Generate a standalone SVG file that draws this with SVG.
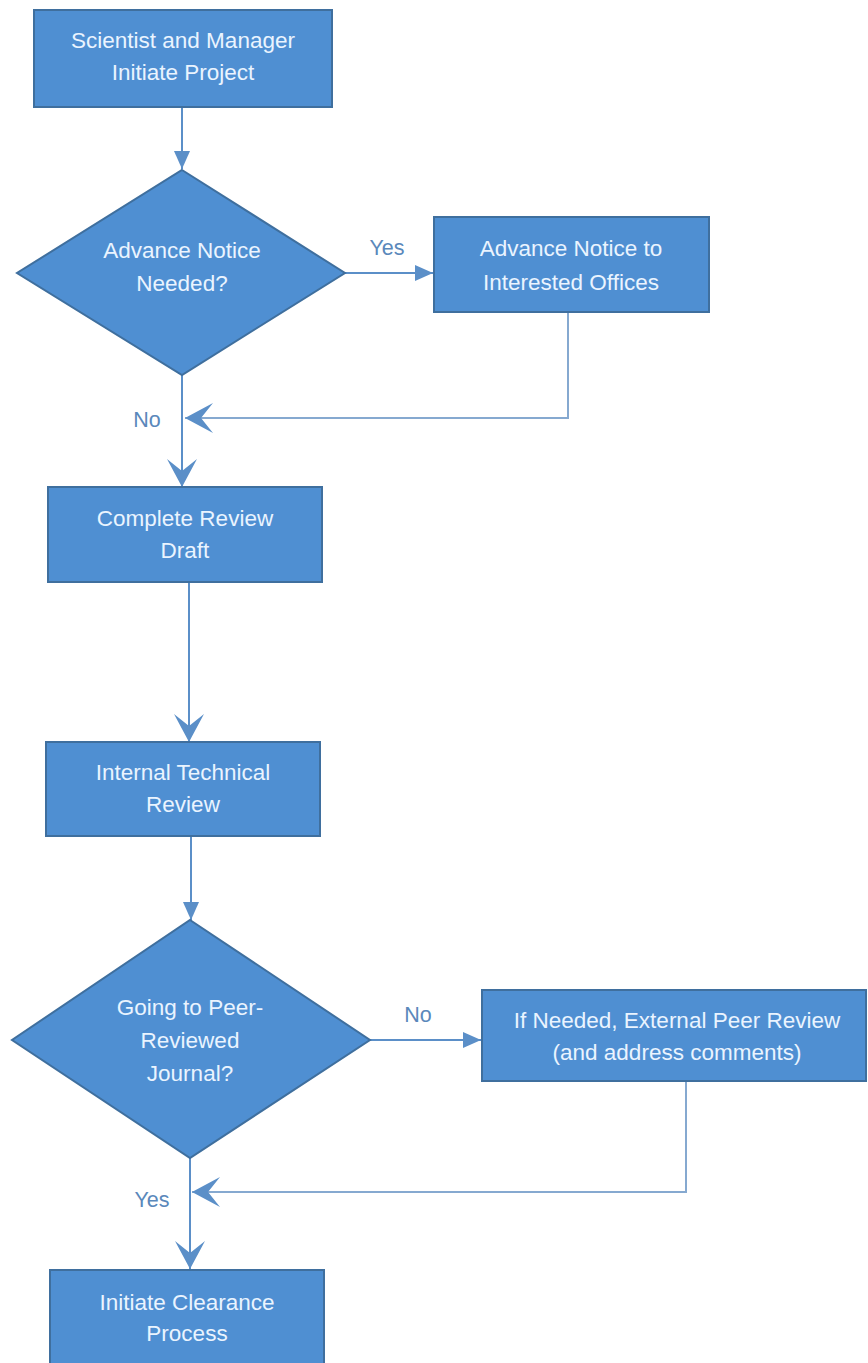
<svg xmlns="http://www.w3.org/2000/svg" width="868" height="1363" viewBox="0 0 868 1363">
<style>
.node{fill:#4f8fd2;stroke:#3f6f9e;stroke-width:2}
.nt{font-family:"Liberation Sans",Arial,sans-serif;font-size:22.5px;fill:#eaf4ff;text-anchor:middle;dominant-baseline:central}
.lbl{font-family:"Liberation Sans",Arial,sans-serif;font-size:21.5px;fill:#5a88bb;text-anchor:middle;dominant-baseline:central}
.c{fill:none;stroke:#5b8fc8;stroke-width:2}
.cl{fill:none;stroke:#86a9d0;stroke-width:2}
</style>
<defs>
<marker id="tri" markerUnits="userSpaceOnUse" markerWidth="18" markerHeight="16" refX="18" refY="8" orient="auto" viewBox="0 0 18 16">
<path d="M0,0 L18,8 L0,16 z" fill="#5b8fc8"/>
</marker>
<marker id="chev" markerUnits="userSpaceOnUse" markerWidth="29" markerHeight="30" refX="28" refY="15" orient="auto" viewBox="0 0 29 30">
<path d="M0,0 L28,15 L0,30 L12,15 z" fill="#5b8fc8"/>
</marker>
</defs>
<rect width="868" height="1363" fill="#ffffff"/>
<g id="connectors">
<line class="c" x1="182" y1="107" x2="182" y2="169" marker-end="url(#tri)"/>
<line class="c" x1="345" y1="273" x2="433" y2="273" marker-end="url(#tri)"/>
<polyline class="cl" points="568,312 568,418 185,418" marker-end="url(#chev)"/>
<line class="c" x1="182" y1="375" x2="182" y2="487" marker-end="url(#chev)"/>
<line class="c" x1="189" y1="582" x2="189" y2="742" marker-end="url(#chev)"/>
<line class="c" x1="191" y1="836" x2="191" y2="920" marker-end="url(#tri)"/>
<line class="c" x1="370" y1="1040" x2="481" y2="1040" marker-end="url(#tri)"/>
<polyline class="cl" points="686,1081 686,1192 192,1192" marker-end="url(#chev)"/>
<line class="c" x1="190" y1="1158" x2="190" y2="1269" marker-end="url(#chev)"/>
<text class="lbl" x="387" y="248">Yes</text>
<text class="lbl" x="147" y="420">No</text>
<text class="lbl" x="418" y="1015">No</text>
<text class="lbl" x="152" y="1200">Yes</text>
</g>
<g id="n1">
<rect class="node" x="34" y="10" width="298" height="97"/>
<text class="nt" x="183" y="40">Scientist and Manager</text>
<text class="nt" x="183" y="72">Initiate Project</text>
</g>
<g id="d1">
<polygon class="node" points="182,170 345,273 182,375 17,273"/>
<text class="nt" x="182" y="250">Advance Notice</text>
<text class="nt" x="182" y="283">Needed?</text>
</g>
<g id="n2">
<rect class="node" x="434" y="217" width="275" height="95"/>
<text class="nt" x="571" y="248">Advance Notice to</text>
<text class="nt" x="571" y="282">Interested Offices</text>
</g>
<g id="n3">
<rect class="node" x="48" y="487" width="274" height="95"/>
<text class="nt" x="185" y="518">Complete Review</text>
<text class="nt" x="185" y="550">Draft</text>
</g>
<g id="n4">
<rect class="node" x="46" y="742" width="274" height="94"/>
<text class="nt" x="183" y="772">Internal Technical</text>
<text class="nt" x="183" y="804">Review</text>
</g>
<g id="d2">
<polygon class="node" points="190,920 370,1040 190,1158 12,1040"/>
<text class="nt" x="190" y="1007">Going to Peer-</text>
<text class="nt" x="190" y="1040">Reviewed</text>
<text class="nt" x="190" y="1073">Journal?</text>
</g>
<g id="n6">
<rect class="node" x="482" y="990" width="384" height="91"/>
<text class="nt" x="677" y="1020">If Needed, External Peer Review</text>
<text class="nt" x="677" y="1052">(and address comments)</text>
</g>
<g id="n5">
<rect class="node" x="50" y="1270" width="274" height="94"/>
<text class="nt" x="187" y="1302">Initiate Clearance</text>
<text class="nt" x="187" y="1333">Process</text>
</g>
</svg>
